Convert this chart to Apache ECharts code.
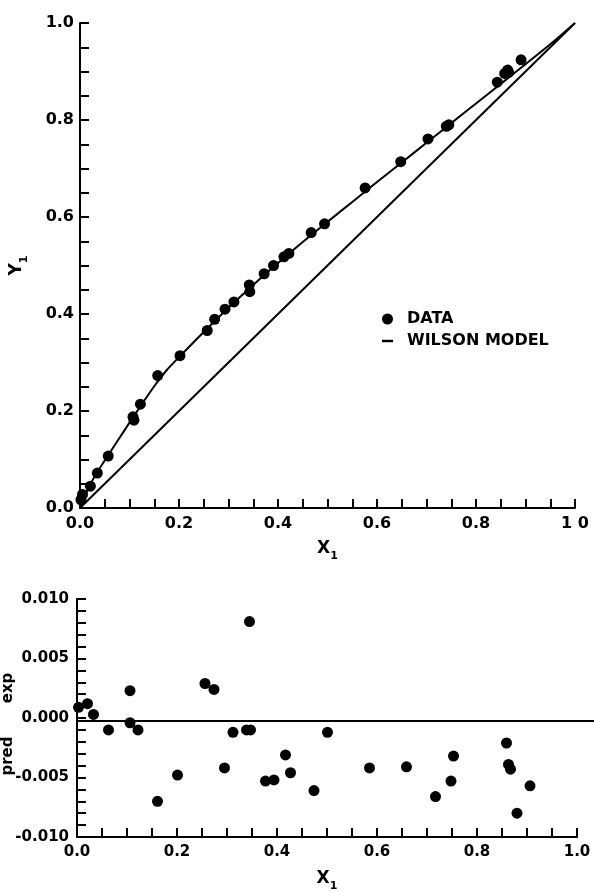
<!DOCTYPE html>
<html>
<head>
<meta charset="utf-8">
<script src="https://cdn.jsdelivr.net/npm/echarts@6/dist/echarts.min.js"></script>
<style>html,body{margin:0;padding:0;background:#fff}#c{width:594px;height:893px}</style>
</head>
<body>
<div id="c"></div>
<script>
// ---- Top plot: vapour-liquid equilibrium data (X1 vs Y1) ----
const topX = [0.002, 0.005, 0.021, 0.035, 0.057, 0.107, 0.109, 0.122, 0.157, 0.202, 0.257, 0.272, 0.293, 0.311, 0.342, 0.343, 0.372, 0.391, 0.412, 0.422, 0.467, 0.494, 0.576, 0.648, 0.703, 0.740, 0.745, 0.843, 0.858, 0.864, 0.866, 0.891];
const topY = [0.017, 0.028, 0.045, 0.072, 0.107, 0.188, 0.181, 0.214, 0.273, 0.314, 0.366, 0.389, 0.410, 0.425, 0.460, 0.446, 0.483, 0.500, 0.518, 0.525, 0.568, 0.586, 0.660, 0.714, 0.761, 0.787, 0.790, 0.878, 0.896, 0.903, 0.898, 0.924];
// Wilson model curve
const wilsonX = [0, 0.01, 0.02, 0.035, 0.05, 0.075, 0.1, 0.125, 0.15, 0.175, 0.2, 0.25, 0.3, 0.35, 0.4, 0.45, 0.5, 0.55, 0.6, 0.65, 0.7, 0.75, 0.8, 0.85, 0.9, 0.95, 1.0];
const wilsonY = [0, 0.025, 0.047, 0.074, 0.098, 0.137, 0.176, 0.214, 0.251, 0.284, 0.311, 0.363, 0.413, 0.460, 0.505, 0.5485, 0.590, 0.631, 0.672, 0.7125, 0.753, 0.7935, 0.834, 0.8745, 0.915, 0.956, 1.0];
// diagonal y = x
const diagX = [0, 1];
const diagY = [0, 1];
const topXLabels = ['0.0', '0.2', '0.4', '0.6', '0.8', '1 0'];
const topYLabels = ['0.0', '0.2', '0.4', '0.6', '0.8', '1.0'];

// ---- Bottom plot: residuals ----
const resX = [0.003, 0.021, 0.033, 0.063, 0.106, 0.106, 0.122, 0.161, 0.201, 0.256, 0.274, 0.295, 0.312, 0.339, 0.345, 0.347, 0.377, 0.394, 0.417, 0.427, 0.474, 0.501, 0.585, 0.659, 0.717, 0.748, 0.753, 0.859, 0.863, 0.867, 0.880, 0.906];
const resY = [0.0009, 0.0012, 0.0003, -0.0010, 0.0023, -0.0004, -0.0010, -0.0070, -0.0048, 0.0029, 0.0024, -0.0042, -0.0012, -0.0010, 0.0081, -0.0010, -0.0053, -0.0052, -0.0031, -0.0046, -0.0061, -0.0012, -0.0042, -0.0041, -0.0066, -0.0053, -0.0032, -0.0021, -0.0039, -0.0043, -0.0080, -0.0057];
const zeroLine = [0];
const botXLabels = ['0.0', '0.2', '0.4', '0.6', '0.8', '1.0'];
const botYLabels = ['-0.010', '-0.005', '0.000', '0.005', '0.010'];

const zip = (a, b) => a.map((v, i) => [v, b[i]]);
const lab = (arr, min, step) => v => { const k = Math.round((v - min) / step); return arr[k] !== undefined ? arr[k] : ''; };

const FONT = 'DejaVu Sans';
const BLACK = '#000';
const lineW = 2;

function valueAxis(gridIndex, min, max, interval, minorSplit, labels, fontSize, margin, extra) {
  return Object.assign({
    gridIndex, type: 'value', min, max, interval,
    axisLine: { show: true, onZero: false, lineStyle: { color: BLACK, width: lineW } },
    axisTick: { show: true, inside: true, length: 9, lineStyle: { color: BLACK, width: lineW } },
    minorTick: { show: true, splitNumber: minorSplit, length: 9, lineStyle: { color: BLACK, width: lineW } },
    splitLine: { show: false },
    minorSplitLine: { show: false },
    axisLabel: { formatter: lab(labels, min, interval), color: BLACK, fontFamily: FONT, fontWeight: 'bold', fontSize, margin, showMinLabel: true, showMaxLabel: true }
  }, extra || {});
}

const nameRich = {
  a: { fontFamily: FONT, fontWeight: 'bold', fontSize: 17, color: BLACK, lineHeight: 22, verticalAlign: 'top' },
  s: { fontFamily: FONT, fontWeight: 'bold', fontSize: 11, color: BLACK, lineHeight: 22, verticalAlign: 'bottom' }
};

const chart = echarts.init(document.getElementById('c'), null, { renderer: 'canvas' });
chart.setOption({
  animation: false,
  backgroundColor: '#fff',
  grid: [
    { left: 76, top: 23, width: 499, height: 485 },
    { left: 77, top: 599, width: 500, height: 243 },
    { left: 77, top: 599, right: 0, height: 243 }
  ],
  xAxis: [
    valueAxis(0, 0, 1, 0.2, 4, topXLabels, 16, 8, { name: '{a|X}{s|1}', nameLocation: 'middle', nameGap: 32, nameTextStyle: { rich: nameRich } }),
    valueAxis(1, 0, 1, 0.2, 4, botXLabels, 15, 8, { name: '{a|X}{s|1}', nameLocation: 'middle', nameGap: 33, nameTextStyle: { rich: nameRich } }),
    { gridIndex: 2, type: 'value', min: 0, max: 1, show: false }
  ],
  yAxis: [
    valueAxis(0, 0, 1, 0.2, 4, topYLabels, 16, 6, { name: '{a|Y}{s|1}', nameLocation: 'middle', nameGap: 50, nameTextStyle: { rich: nameRich } }),
    valueAxis(1, -0.01, 0.01, 0.005, 5, botYLabels, 15, 8),
    { gridIndex: 2, type: 'value', min: -0.01, max: 0.01, show: false }
  ],
  legend: {
    orient: 'vertical', left: 382, top: 311, padding: 0, itemWidth: 11, itemHeight: 11, itemGap: 6,
    data: [
      { name: 'DATA', icon: 'circle' },
      { name: 'WILSON MODEL', icon: 'path://M0,0 L9,0 L9,2 L0,2 Z' }
    ],
    textStyle: { fontFamily: FONT, fontWeight: 'bold', fontSize: 16, color: BLACK, padding: [0, 0, 0, 9] }
  },
  graphic: [
    { type: 'text', x: 8, y: 756, rotation: Math.PI / 2, style: { text: 'pred', fontFamily: FONT, fontWeight: 'bold', fontSize: 15, fill: BLACK, align: 'center', verticalAlign: 'middle' } },
    { type: 'text', x: 8, y: 688, rotation: Math.PI / 2, style: { text: 'exp', fontFamily: FONT, fontWeight: 'bold', fontSize: 15, fill: BLACK, align: 'center', verticalAlign: 'middle' } }
  ],
  series: [
    { name: 'diagonal', type: 'line', xAxisIndex: 0, yAxisIndex: 0, data: zip(diagX, diagY), symbol: 'none', lineStyle: { color: BLACK, width: lineW }, z: 2 },
    { name: 'WILSON MODEL', type: 'line', xAxisIndex: 0, yAxisIndex: 0, data: zip(wilsonX, wilsonY), smooth: 0.3, symbol: 'none', itemStyle: { color: BLACK }, lineStyle: { color: BLACK, width: lineW }, z: 2 },
    { name: 'DATA', type: 'scatter', xAxisIndex: 0, yAxisIndex: 0, data: zip(topX, topY), symbol: 'circle', symbolSize: 11, itemStyle: { color: BLACK, opacity: 1 }, z: 3 },
    { name: 'residual', type: 'scatter', xAxisIndex: 1, yAxisIndex: 1, data: zip(resX, resY), symbol: 'circle', symbolSize: 11, itemStyle: { color: BLACK, opacity: 1 }, z: 3 },
    { name: 'zero', type: 'line', xAxisIndex: 2, yAxisIndex: 2, data: [], symbol: 'none',
      markLine: { silent: true, symbol: 'none', label: { show: false }, lineStyle: { color: BLACK, width: lineW, type: 'solid' }, data: zeroLine.map(v => ({ yAxis: v })) } }
  ]
});
</script>
</body>
</html>
